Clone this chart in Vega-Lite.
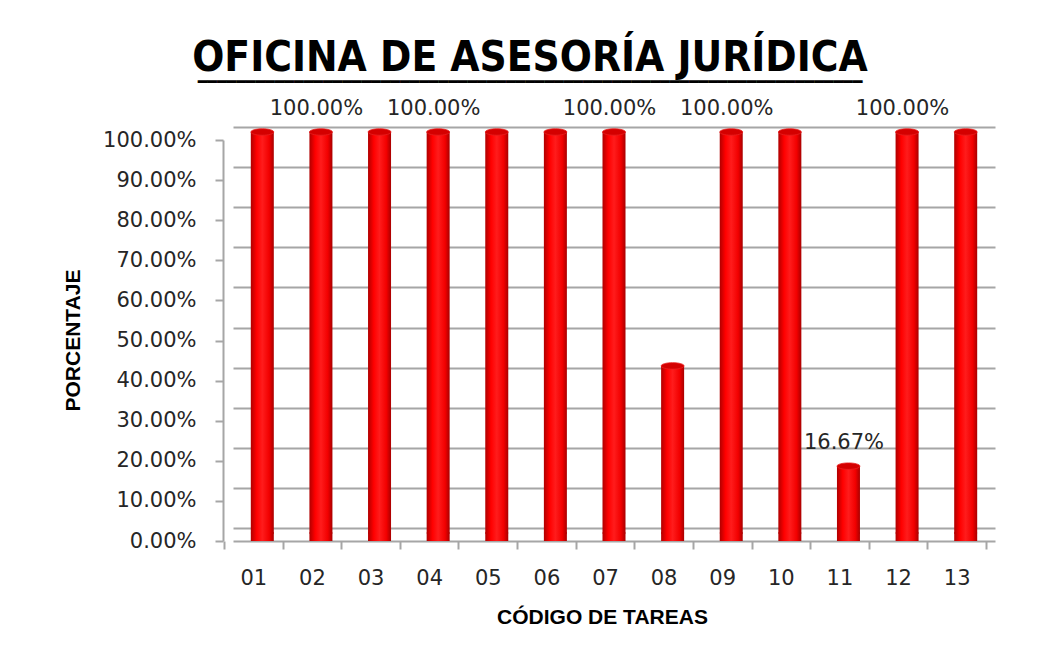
{
  "$schema": "https://vega.github.io/schema/vega-lite/v6.json",
  "autosize": {"type": "none"},
  "width": 762,
  "height": 401,
  "padding": {"left": 233, "right": 51, "top": 140, "bottom": 128},
  "background": "white",
  "config": {"view": {"stroke": null}},
  "title": {
    "text": "OFICINA DE ASESORÍA JURÍDICA",
    "subtitle": "━━━━━━━━━━━━━━━━━━━━━━━━━━━━━━━━━━━━━━━━━━━━━━━━━━━━━━━━━━━━━━━━━━━━━",
    "font": "DejaVu Sans Condensed, Lato",
    "fontSize": 42,
    "fontWeight": "bold",
    "color": "#000000",
    "subtitleFont": "DejaVu Sans Mono",
    "subtitleFontSize": 16,
    "subtitleColor": "#000000",
    "subtitlePadding": -6,
    "anchor": "middle",
    "dx": -84,
    "offset": 7
  },
  "data": {
    "values": [
      {"codigo": "01", "valor": 1.0, "etiqueta": ""},
      {"codigo": "02", "valor": 1.0, "etiqueta": "100.00%"},
      {"codigo": "03", "valor": 1.0, "etiqueta": ""},
      {"codigo": "04", "valor": 1.0, "etiqueta": "100.00%"},
      {"codigo": "05", "valor": 1.0, "etiqueta": ""},
      {"codigo": "06", "valor": 1.0, "etiqueta": ""},
      {"codigo": "07", "valor": 1.0, "etiqueta": "100.00%"},
      {"codigo": "08", "valor": 0.4167, "etiqueta": ""},
      {"codigo": "09", "valor": 1.0, "etiqueta": "100.00%"},
      {"codigo": "10", "valor": 1.0, "etiqueta": ""},
      {"codigo": "11", "valor": 0.1667, "etiqueta": "16.67%"},
      {"codigo": "12", "valor": 1.0, "etiqueta": "100.00%"},
      {"codigo": "13", "valor": 1.0, "etiqueta": ""}
    ]
  },
  "resolve": {"axis": {"y": "independent"}},
  "layer": [
    {
      "mark": {"type": "point", "opacity": 0},
      "encoding": {
        "x": {
          "field": "codigo", "type": "nominal", "sort": null,
          "scale": {"paddingInner": 0, "paddingOuter": 0},
          "axis": {
            "title": "CÓDIGO DE TAREAS", "labelAngle": 0, "bandPosition": 1, "tickExtra": true, "tickOffset": -9, "labelOffset": 0,
            "domainColor": "#a6a6a6", "domainWidth": 2, "tickColor": "#a6a6a6", "tickWidth": 2, "tickSize": 8,
            "labelFont": "DejaVu Sans", "labelFontSize": 21, "labelColor": "#262626", "labelPadding": 18,
            "titleFont": "Liberation Sans", "titleFontSize": 21, "titleFontWeight": "bold", "titleColor": "#000000",
            "titleX": 369, "titleY": 76, "titleAlign": "center", "titleBaseline": "middle"
          }
        },
        "y": {
          "field": "valor", "type": "quantitative",
          "scale": {"domain": [0, 1]},
          "axis": {
            "orient": "left", "values": [0, 0.1, 0.2, 0.3, 0.4, 0.5, 0.6, 0.7, 0.8, 0.9, 1.0],
            "grid": true, "gridColor": "#a6a6a6", "gridWidth": 2, "tickOffset": -13,
            "domain": false, "ticks": false, "labels": false, "title": null
          }
        }
      }
    },
    {
      "mark": {
        "type": "bar", "size": 23, "yOffset": -8,
        "fill": {"gradient": "linear", "x1": 0, "x2": 1, "y1": 0, "y2": 0,
          "stops": [{"offset": 0, "color": "#b00000"}, {"offset": 0.25, "color": "#ff0000"}, {"offset": 0.5, "color": "#ff1c1c"}, {"offset": 0.8, "color": "#f20000"}, {"offset": 1, "color": "#a80000"}]}
      },
      "encoding": {
        "x": {"field": "codigo", "type": "nominal", "sort": null},
        "y": {
          "field": "valor", "type": "quantitative",
          "axis": {
            "orient": "left", "values": [0, 0.1, 0.2, 0.3, 0.4, 0.5, 0.6, 0.7, 0.8, 0.9, 1.0],
            "format": ".2%", "grid": false, "offset": 10,
            "domainColor": "#a6a6a6", "domainWidth": 2, "tickColor": "#a6a6a6", "tickWidth": 2, "tickSize": 8,
            "labelFont": "DejaVu Sans", "labelFontSize": 21, "labelColor": "#262626", "labelPadding": 19,
            "title": "PORCENTAJE", "titleFont": "Liberation Sans", "titleFontSize": 21, "titleFontWeight": "bold", "titleColor": "#000000",
            "titleAngle": -90, "titleX": -150, "titleY": 200, "titleAlign": "center", "titleBaseline": "middle"
          }
        },
        "y2": {"datum": 0}
      }
    },
    {
      "mark": {
        "type": "point", "filled": true, "size": 529, "yOffset": -8, "opacity": 1, "strokeWidth": 0,
        "shape": "M -1 0 A 1 0.28 0 1 0 1 0 A 1 0.28 0 1 0 -1 0 Z",
        "fill": {"gradient": "linear", "x1": 0, "x2": 1, "y1": 0, "y2": 0,
          "stops": [{"offset": 0, "color": "#b00000"}, {"offset": 0.25, "color": "#ff0000"}, {"offset": 0.5, "color": "#ff1c1c"}, {"offset": 0.8, "color": "#f20000"}, {"offset": 1, "color": "#a80000"}]}
      },
      "encoding": {
        "x": {"field": "codigo", "type": "nominal", "sort": null},
        "y": {"datum": 0, "type": "quantitative", "axis": null}
      }
    },
    {
      "mark": {
        "type": "point", "filled": true, "size": 529, "yOffset": -8, "opacity": 1,
        "shape": "M -1 0 A 1 0.28 0 1 0 1 0 A 1 0.28 0 1 0 -1 0 Z",
        "fill": "#d40000", "stroke": "#e82020", "strokeWidth": 0.8
      },
      "encoding": {
        "x": {"field": "codigo", "type": "nominal", "sort": null},
        "y": {"field": "valor", "type": "quantitative", "axis": null}
      }
    },
    {
      "transform": [{"filter": "datum.etiqueta != ''"}],
      "mark": {"type": "text", "font": "DejaVu Sans", "fontSize": 21, "color": "#262626", "dx": -4.5, "dy": -31, "baseline": "middle"},
      "encoding": {
        "x": {"field": "codigo", "type": "nominal", "sort": null},
        "y": {"field": "valor", "type": "quantitative", "axis": null},
        "text": {"field": "etiqueta"}
      }
    }
  ]
}
